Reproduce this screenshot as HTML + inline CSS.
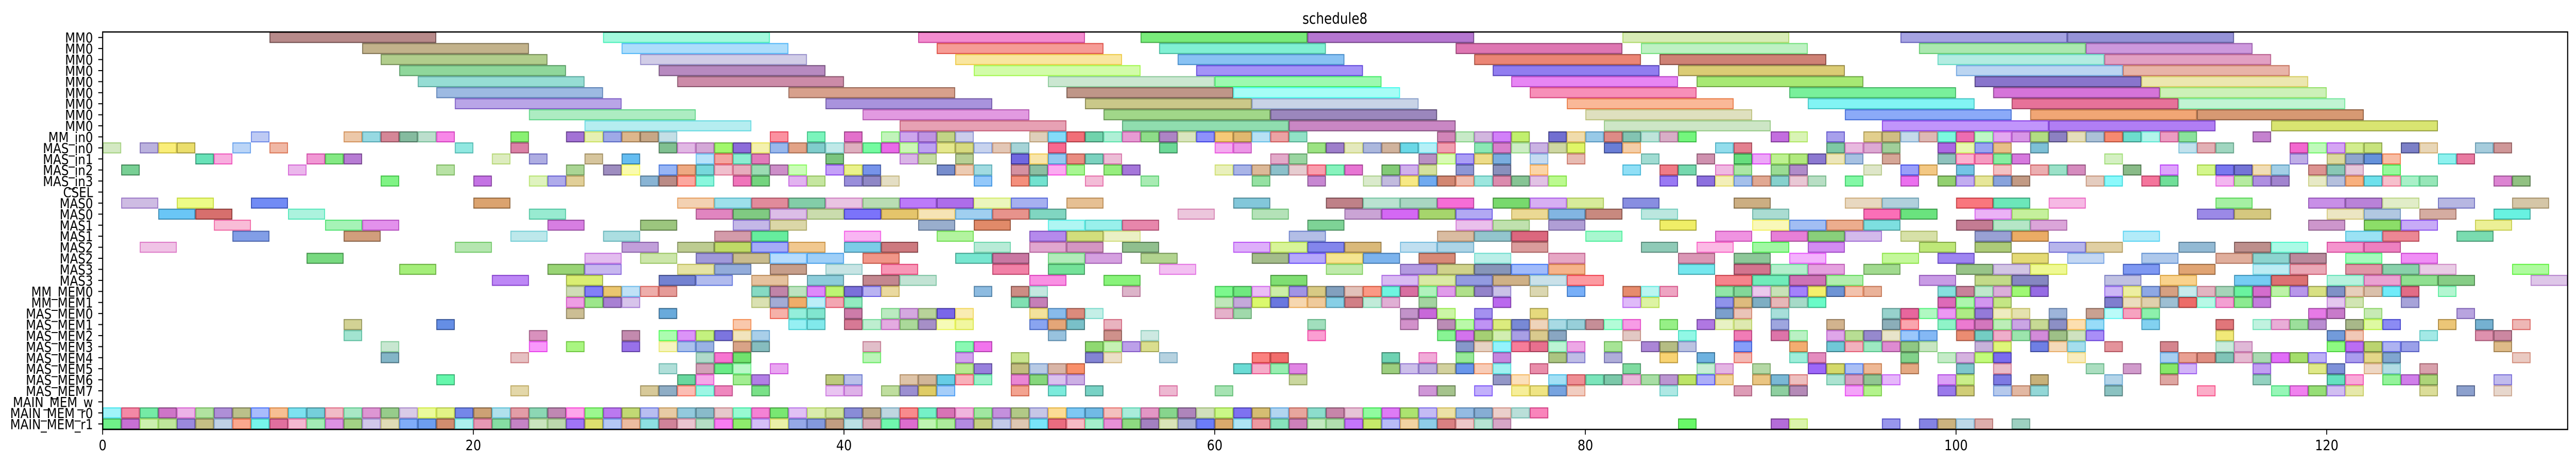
<!DOCTYPE html>
<html><head><meta charset="utf-8"><style>
html,body{margin:0;padding:0;background:#fff;width:100%;height:100%;overflow:hidden;}
svg{position:fixed;left:0;top:0;width:100vw;height:100vh;display:block;font-family:"DejaVu Sans","Liberation Sans",sans-serif;}
</style></head><body>
<svg id="chart" viewBox="0 0 5872 900" preserveAspectRatio="none" xmlns="http://www.w3.org/2000/svg">
<rect x="0" y="0" width="5872" height="900" fill="#fff"/>
<text x="3043" y="46" font-size="29" text-anchor="middle" fill="#000">schedule8</text>
<g id="bars"></g>
<g id="axes"></g>
</svg>
<script>
const rowLabels = ["MM0","MM0","MM0","MM0","MM0","MM0","MM0","MM0","MM0","MM_in0","MAS_in0","MAS_in1","MAS_in2","MAS_in3","CSEL","MAS0","MAS0","MAS1","MAS1","MAS2","MAS2","MAS3","MAS3","MM_MEM0","MM_MEM1","MAS_MEM0","MAS_MEM1","MAS_MEM2","MAS_MEM3","MAS_MEM4","MAS_MEM5","MAS_MEM6","MAS_MEM7","MAIN_MEM_w","MAIN_MEM_r0","MAIN_MEM_r1"];
const xTicks = [0,20,40,60,80,100,120];
const xMax = 133;
// long spans [start,end] per row
const spanRows = {
0:[[9,18],[27,36],[44,53],[56,65],[65,74],[82,91],[97,106],[106,115]],
1:[[14,23],[28,37],[45,54],[57,66],[73,82],[83,92],[98,107],[107,116]],
2:[[15,24],[29,38],[46,55],[58,67],[74,83],[84,93],[99,108],[108,117]],
3:[[16,25],[30,39],[47,56],[59,68],[75,84],[85,94],[100,109],[109,118]],
4:[[17,26],[31,40],[51,60],[60,69],[76,85],[86,95],[101,110],[110,119]],
5:[[18,27],[37,46],[52,61],[61,70],[77,86],[91,100],[102,111],[111,120]],
6:[[19,28],[39,48],[53,62],[62,71],[79,88],[92,101],[103,112],[112,121]],
7:[[23,32],[41,50],[54,63],[63,72],[80,89],[94,103],[104,113],[113,122]],
8:[[26,35],[43,52],[55,64],[64,73],[81,90],[96,105],[105,114],[117,126]],
15:[[1,3],[4,6],[8,10],[20,22],[31,33],[33,35],[35,37],[37,39],[39,41],[41,43],[43,45],[45,47],[47,49],[49,51],[52,54],[61,63],[66,68],[68,70],[70,72],[72,74],[75,77],[77,79],[79,81],[82,84],[88,90],[94,96],[96,98],[100,102],[102,104],[105,107],[114,116],[119,121],[121,123],[123,125],[126,128],[130,132]],
16:[[3,5],[5,7],[10,12],[23,25],[32,34],[34,36],[36,38],[38,40],[40,42],[42,44],[44,46],[46,48],[48,50],[50,52],[58,60],[62,64],[67,69],[69,71],[71,73],[73,75],[76,78],[78,80],[80,82],[83,85],[89,91],[95,97],[97,99],[101,103],[103,105],[113,115],[115,117],[120,122],[122,124],[125,127],[129,131]],
17:[[6,8],[12,14],[14,16],[24,26],[29,31],[34,36],[36,38],[44,46],[47,49],[51,53],[53,55],[55,57],[65,67],[73,75],[75,77],[78,80],[84,86],[89,91],[91,93],[93,95],[95,97],[100,102],[102,104],[104,106],[119,121],[122,124],[124,126],[128,130]],
18:[[7,9],[13,15],[22,24],[27,29],[33,35],[35,37],[40,42],[45,47],[50,52],[52,54],[54,56],[64,66],[72,74],[74,76],[76,78],[80,82],[87,89],[90,92],[92,94],[94,96],[97,99],[101,103],[103,105],[109,111],[121,123],[123,125],[127,129]],
19:[[2,4],[19,21],[28,30],[31,33],[33,35],[35,37],[37,39],[40,42],[42,44],[47,49],[50,52],[52,54],[55,57],[61,63],[63,65],[65,67],[67,69],[70,72],[72,74],[76,78],[83,85],[86,88],[89,91],[92,94],[98,100],[101,103],[105,107],[107,109],[112,114],[115,117],[117,119],[120,122],[122,124]],
20:[[11,13],[26,28],[29,31],[32,34],[34,36],[36,38],[38,40],[41,43],[46,48],[48,50],[51,53],[53,55],[56,58],[62,64],[64,66],[66,68],[68,70],[71,73],[74,76],[78,80],[85,87],[88,90],[91,93],[96,98],[99,101],[103,105],[106,108],[110,112],[114,116],[116,118],[118,120],[121,123],[124,126]],
21:[[16,18],[24,26],[26,28],[31,33],[33,35],[36,38],[39,41],[42,44],[48,50],[51,53],[57,59],[66,68],[70,72],[72,74],[74,76],[76,78],[78,80],[85,87],[88,90],[90,92],[92,94],[95,97],[100,102],[102,104],[104,106],[109,111],[112,114],[116,118],[118,120],[121,123],[123,125],[125,127],[130,132]],
22:[[21,23],[25,27],[30,32],[32,34],[35,37],[38,40],[41,43],[43,45],[50,52],[54,56],[63,65],[69,71],[71,73],[73,75],[75,77],[77,79],[79,81],[87,89],[89,91],[91,93],[93,95],[98,100],[101,103],[103,105],[108,110],[111,113],[115,117],[117,119],[120,122],[122,124],[124,126],[126,128],[131,133]]
};
// unit-length tasks: start times per row
const unitRows = {
9:[8,13,14,15,16,17,18,22,25,26,27,28,29,30,36,38,40,42,43,44,45,46,50,51,52,53,54,55,56,57,58,59,60,61,62,63,64,72,73,74,75,76,78,79,80,81,82,83,84,85,90,91,93,95,96,97,98,99,100,101,102,103,104,105,106,107,108,109,110,111,112,116],
10:[0,2,3,4,7,9,19,22,30,31,32,33,34,35,36,37,38,39,40,41,42,43,44,45,46,47,48,49,51,57,60,61,65,66,67,68,69,70,71,72,74,75,76,77,78,79,81,82,87,88,93,94,95,96,99,100,101,102,104,112,113,114,118,119,120,121,122,124,125,128,129],
11:[5,6,11,12,13,21,23,26,28,32,33,34,35,39,43,44,46,49,50,51,52,53,54,63,64,71,72,73,74,75,77,79,83,86,88,89,90,91,92,93,94,96,99,100,101,102,103,108,118,120,121,122,123,126,127],
12:[1,10,18,25,27,28,30,31,32,33,34,35,36,37,39,40,41,45,46,47,49,50,51,52,54,55,60,61,62,63,64,65,66,67,69,70,71,73,75,77,82,84,85,87,88,90,91,95,97,98,100,102,104,105,106,109,111,113,114,115,116,117,119,120,121,123],
13:[15,20,23,24,25,29,30,31,32,34,35,37,38,40,41,42,47,49,50,53,56,62,65,68,69,70,71,72,73,74,75,76,77,78,84,86,87,88,89,90,91,92,94,97,99,100,101,102,103,107,108,110,111,114,115,116,117,119,120,121,122,123,124,125,129,130],
23:[25,26,27,28,29,30,35,36,37,38,39,40,41,42,47,49,50,55,60,61,62,63,64,65,66,67,68,69,70,71,72,73,74,75,77,79,82,83,84,87,88,89,90,91,92,93,94,95,99,100,101,102,103,104,108,109,110,111,112,113,114,115,116,117,118,119,120,121,122,123,124,126],
24:[25,26,27,28,35,36,37,38,39,40,49,50,60,61,62,63,64,65,66,67,68,69,71,75,82,83,87,88,89,90,91,92,99,100,101,102,108,109,110,111,112,113,114,115,116,120,121,124],
25:[25,30,36,37,38,40,42,43,44,45,46,50,51,52,53,60,61,70,71,72,74,77,87,88,90,96,97,98,99,100,101,102,103,105,107,108,109,110,119,120,122,127],
26:[13,18,34,37,38,40,41,42,43,44,45,46,50,51,52,54,65,70,72,73,74,75,76,77,78,79,80,81,82,84,86,87,88,90,93,96,97,99,100,101,102,103,104,105,106,107,110,114,116,117,118,119,121,122,123,126,128,130],
27:[13,23,28,30,31,32,33,34,35,51,54,56,65,72,73,74,75,76,77,78,82,85,88,90,91,93,94,95,96,97,98,100,101,102,103,104,105,106,107,114,120,121,125,128,129],
28:[15,23,25,28,30,31,32,34,35,41,46,47,53,54,55,56,73,74,75,76,77,78,79,81,83,84,85,88,91,93,94,95,96,97,98,101,102,104,105,106,108,111,114,115,120,121,122,123,124,129],
29:[15,22,32,33,34,41,46,49,53,54,57,62,63,69,71,73,75,78,79,81,84,86,88,91,92,97,99,100,101,102,106,111,112,113,114,115,116,117,118,119,121,122,123,130],
30:[30,32,33,34,36,46,47,49,50,51,52,61,62,63,64,69,70,71,72,73,74,75,77,82,86,87,89,92,93,94,95,97,100,102,107,109,111,112,116,119,120,122,123,125],
31:[18,31,32,34,35,39,40,43,44,45,46,47,49,50,51,52,64,75,76,78,79,80,81,82,83,84,85,86,87,89,90,91,93,94,95,96,99,100,102,104,108,111,116,120,121,123,124,125,129],
32:[22,29,30,31,32,33,35,39,40,42,43,44,45,49,51,53,57,60,71,72,74,76,77,78,79,84,88,90,91,94,95,99,100,102,103,104,108,113,117,118,119,120,121,125,127,129],
34:[0,1,2,3,4,5,6,7,8,9,10,11,12,13,14,15,16,17,18,19,20,21,22,23,24,25,26,27,28,29,30,31,32,33,34,35,36,37,38,39,40,41,42,43,44,45,46,47,48,49,50,51,52,53,54,55,56,57,58,59,60,61,62,63,64,65,66,67,68,69,70,71,72,73,74,75,76,77],
35:[0,1,2,3,4,5,6,7,8,9,10,11,12,13,14,15,16,17,18,19,20,21,22,23,24,25,26,27,28,29,30,31,32,33,34,35,36,37,38,39,40,41,42,43,44,45,46,47,48,49,50,51,52,53,54,55,56,57,58,59,60,61,62,63,64,65,66,67,68,69,70,71,72,73,74,75,85,90,91,96,98,99,100,101,103]
};

const NS = "http://www.w3.org/2000/svg";
const AX_L = 234, AX_R = 5853, AX_T = 62, AX_B = 833;
const nRows = rowLabels.length;
const rowH = (AX_B - AX_T) / nRows;
function xScale(v){ return AX_L + (v / xMax) * (AX_R - AX_L); }
function yTop(i){ return AX_T + i * rowH; }
function yCenter(i){ return AX_T + (i + 0.5) * rowH; }
let colorIdx = 0;
function nextColor(){
  const k = colorIdx++;
  const h = (k * 137.508 + (k % 7) * 23) % 360;
  const s = 35 + ((k * 53) % 60);
  const l = 40 + ((k * 29) % 38);
  return [h, s, l];
}
function mk(tag, attrs){ const e = document.createElementNS(NS, tag); for (const a in attrs) e.setAttribute(a, attrs[a]); return e; }
const barsG = document.getElementById('bars');
function drawBar(row, s, e){
  const c = nextColor();
  const x0 = xScale(s), x1 = xScale(e);
  const r = mk('rect', {x: x0 + 1, y: yTop(row) + 1, width: x1 - x0 - 2, height: rowH - 2,
    fill: `hsla(${c[0]},${c[1]}%,${c[2]}%,0.62)`, stroke: `hsla(${c[0]},${c[1]}%,${Math.max(c[2]-20,10)}%,0.7)`, 'stroke-width': 2});
  
  
  barsG.appendChild(r);
}
for (let row = 0; row < nRows; row++) {
  (spanRows[row] || []).forEach(p => drawBar(row, p[0], p[1]));
  (unitRows[row] || []).forEach(s => drawBar(row, s, s + 1));
}
const axG = document.getElementById('axes');
const frame = mk('rect', {x: AX_L, y: AX_T, width: AX_R - AX_L, height: AX_B - AX_T, fill: 'none', stroke: '#000', 'stroke-width': 2.5});


axG.appendChild(frame);
rowLabels.forEach((lab, i) => {
  const y = yCenter(i);
  const t = mk('line', {x1: AX_L - 10, x2: AX_L, y1: y, y2: y, stroke: '#000', 'stroke-width': 2});
  
  
  axG.appendChild(t);
  const tx = mk('text', {x: AX_L - 22, y: y + 10, 'font-size': 27, 'text-anchor': 'end', fill: '#000'});
  tx.textContent = lab;
  
  
  axG.appendChild(tx);
});
xTicks.forEach(v => {
  const x = xScale(v);
  const t = mk('line', {x1: x, x2: x, y1: AX_B, y2: AX_B + 10, stroke: '#000', 'stroke-width': 2});
  
  
  axG.appendChild(t);
  const tx = mk('text', {x: x, y: AX_B + 40, 'font-size': 28, 'text-anchor': 'middle', fill: '#000'});
  tx.textContent = String(v);
  
  
  axG.appendChild(tx);
});
</script>
</body></html>
